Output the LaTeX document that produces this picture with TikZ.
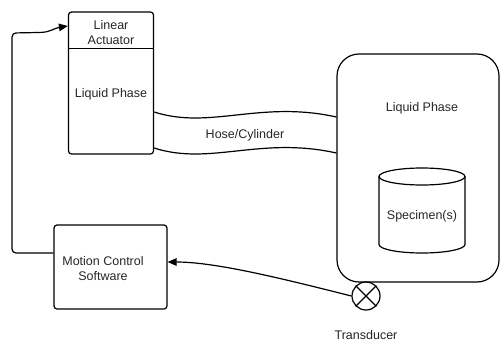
\documentclass[tikz,border=0pt]{standalone}
\usepackage{fontspec}
\setmainfont{Liberation Sans}
\usetikzlibrary{arrows.meta,calc}
\begin{document}
\begin{tikzpicture}[x=1pt,y=-1pt,
  every node/.style={font=\fontsize{12.5}{15}\selectfont, text=black!85},
  box/.style={draw, line width=1.2pt, rounded corners=3pt, inner sep=0pt},
  lbl/.style={align=center, inner sep=0pt},
  wire/.style={line width=1.2pt},
  arr/.style={wire, -{Triangle[length=9pt,width=7.5pt]}},
]
\useasboundingbox (0,0) rectangle (501,343);

% actuator column with its header band
\node[box, minimum width=85pt, minimum height=142pt] (act) at (111,83) {};
\draw[line width=1pt] (act.west |- 0,48) -- (act.east |- 0,48);
\node[lbl] (acttitle) at (111,33) {Linear\\Actuator};
\node[lbl] (actliq) at (111,94) {Liquid Phase};

% controller
\node[box, minimum width=113pt, minimum height=84pt] (mcs) at (110.5,267) {};
\node[lbl] (mcstext) at (103,269) {Motion Control\\Software};

% specimen tank
\node[box, rounded corners=22pt, minimum width=162pt, minimum height=228pt] (tank) at (418,168) {};
\node[lbl] (tankliq) at (422,108) {Liquid Phase};

% specimen cylinder
\draw[wire] (379,176.5) -- (379,244.5)
  arc[start angle=180, end angle=360, x radius=43pt, y radius=8.5pt] -- (465,176.5);
\draw[wire] (422,176.5) ellipse[x radius=43pt, y radius=8.5pt];
\node[lbl] (spec) at (422,216) {Specimen(s)};

% hose between actuator and tank
\draw[wire] (act.east |- 0,112) .. controls (210,130) and (260,100) .. (tank.west |- 0,117);
\draw[wire] (act.east |- 0,148) .. controls (210,166) and (260,136) .. (tank.west |- 0,153);
\node[lbl] (hose) at (245,135) {Hose/Cylinder};

% transducer
\node[draw, circle, line width=1.2pt, minimum size=28pt, inner sep=0pt] (trans) at (366,296) {};
\draw[wire] (trans.45) -- (trans.225) (trans.135) -- (trans.315);
\node[lbl] (translbl) at (366,335) {Transducer};

% signal path: transducer -> software
\coordinate (mcsin) at (mcs.east |- 0,262);
\draw[arr] (trans.west) .. controls (280,278) and (215,262) .. (mcsin);

% command path: software -> actuator
\coordinate (mcsout) at (mcs.west |- 0,253);
\coordinate (actin) at (act.west |- 0,26);
\draw[arr, rounded corners=4pt] (mcsout) -- (12,253) -- (12,33) -- (38,32.5)
  .. controls (50,32) and (55,28) .. (actin);
\end{tikzpicture}
\end{document}
